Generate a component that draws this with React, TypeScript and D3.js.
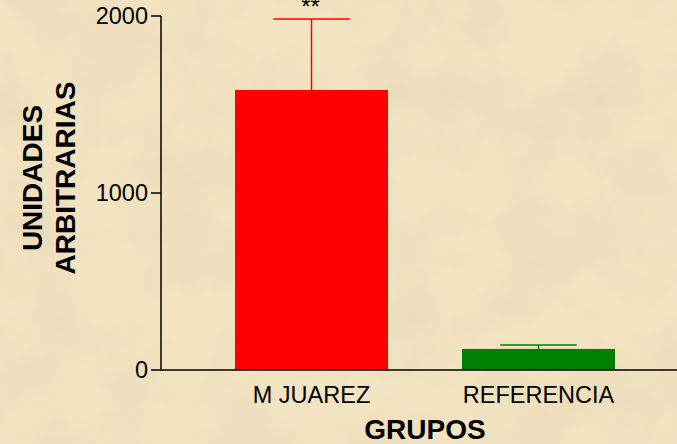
import React from 'react';
import * as d3 from 'd3';

const categories = ['M JUAREZ', 'REFERENCIA'];
const means = [1582, 119];
const errors = [401, 22];
const barColors = ['#ff0000', '#008000'];
const yTicks = [0, 1000, 2000];
const marks = ['**', ''];

const W = 677;
const H = 444;
const FONT = "Arial, 'Liberation Sans', sans-serif";

const App = () => {
  const y = d3.scaleLinear().domain([0, 2000]).range([370, 16]);
  const x = d3.scaleBand().domain(categories).range([161, 689]).padding(0.326);
  const axisX = 161;
  const baseY = y(0);

  return (
    <div style={{ position: 'fixed', left: 0, top: 0 }}>
      <svg width={W} height={H} style={{ display: 'block' }}>
        <defs>
          <filter id="paper" x="0" y="0" width="100%" height="100%">
            <feTurbulence type="fractalNoise" baseFrequency="0.014" numOctaves={4} seed={7} result="noise" />
            <feColorMatrix
              in="noise"
              type="matrix"
              values="0 0 0 0 0.76  0 0 0 0 0.64  0 0 0 0 0.44  0 0 0 1.4 -0.5"
            />
          </filter>
        </defs>
        {/* parchment background */}
        <rect width={W} height={H} fill="#f2e3c1" />
        <rect width={W} height={H} filter="url(#paper)" opacity={0.6} />

        {/* bars */}
        {categories.map((c, i) => {
          const x0 = x(c) ?? 0;
          const bw = x.bandwidth();
          const cx = x0 + bw / 2;
          const top = y(means[i] + errors[i]);
          return (
            <g key={c}>
              <line x1={cx} x2={cx} y1={y(means[i])} y2={top} stroke={barColors[i]} strokeWidth={1.5} />
              <line x1={cx - bw / 4} x2={cx + bw / 4} y1={top} y2={top} stroke={barColors[i]} strokeWidth={1.5} />
              <rect x={x0} y={y(means[i])} width={bw} height={baseY - y(means[i])} fill={barColors[i]} />
              {marks[i] && (
                <text x={cx - 1} y={15} textAnchor="middle" fontFamily={FONT} fontSize={24} fill="#000">
                  {marks[i]}
                </text>
              )}
              <text x={cx} y={403} textAnchor="middle" fontFamily={FONT} fontSize={23.5} fill="#000">
                {c}
              </text>
            </g>
          );
        })}

        {/* axes */}
        <line x1={axisX} x2={axisX} y1={y(2000)} y2={baseY + 0.5} stroke="#000" strokeWidth={1.5} />
        <line x1={axisX} x2={W} y1={baseY} y2={baseY} stroke="#000" strokeWidth={1.5} />
        {yTicks.map((t) => (
          <g key={t}>
            <line x1={axisX - 10} x2={axisX} y1={y(t)} y2={y(t)} stroke="#000" strokeWidth={1.5} />
            <text
              x={axisX - 13}
              y={y(t)}
              dy="0.36em"
              textAnchor="end"
              fontFamily={FONT}
              fontSize={23.5}
              fill="#000"
            >
              {t}
            </text>
          </g>
        ))}

        {/* axis titles */}
        <text
          transform="translate(42,178) rotate(-90)"
          textAnchor="middle"
          fontFamily={FONT}
          fontWeight="bold"
          fontSize={28}
          fill="#000"
        >
          UNIDADES
        </text>
        <text
          transform="translate(75,178) rotate(-90)"
          textAnchor="middle"
          fontFamily={FONT}
          fontWeight="bold"
          fontSize={28}
          fill="#000"
        >
          ARBITRARIAS
        </text>
        <text x={425} y={439} textAnchor="middle" fontFamily={FONT} fontWeight="bold" fontSize={28} fill="#000">
          GRUPOS
        </text>
      </svg>
    </div>
  );
};

export default App;
